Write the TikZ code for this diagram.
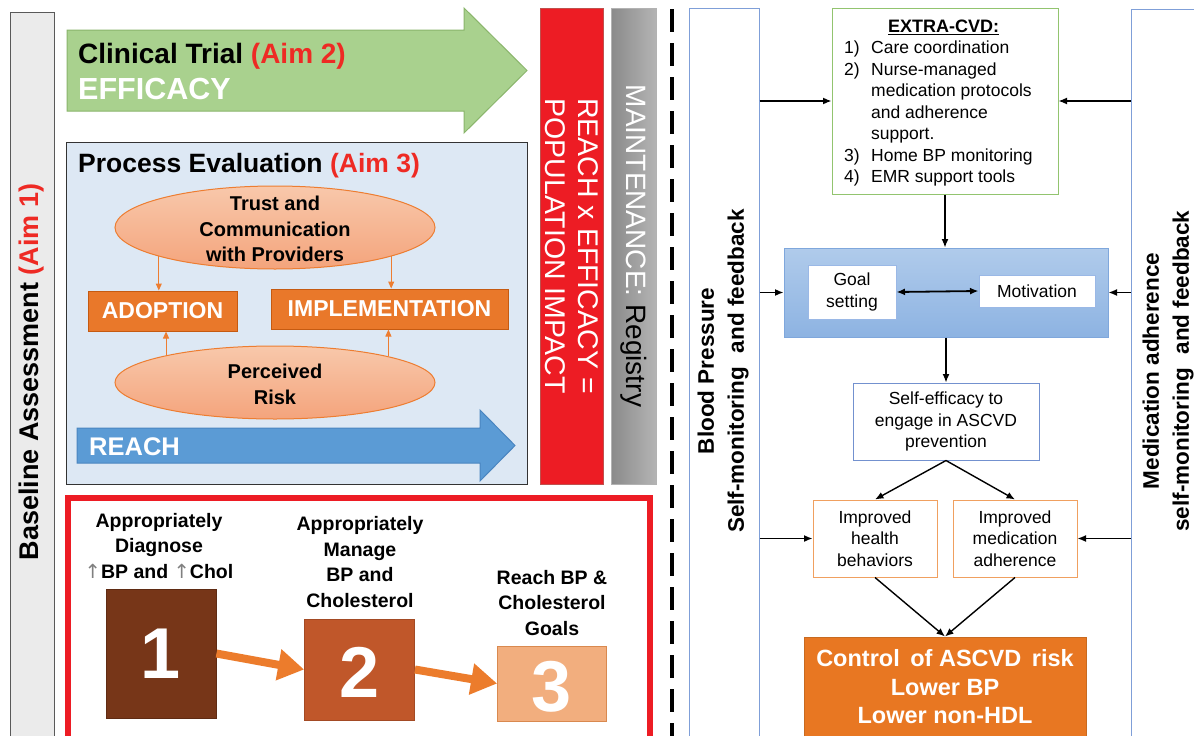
\documentclass[tikz,border=0pt]{standalone}
\usepackage{fontspec}
\setmainfont{Liberation Sans}
\newfontfamily\arrowfont{DejaVu Sans}
\usetikzlibrary{arrows.meta,shapes.geometric,calc}
\newcommand{\myfs}[2]{\fontsize{#1}{#2}\selectfont}
\definecolor{aimred}{HTML}{EE2A24}
\definecolor{greenF}{HTML}{A9D18E}
\definecolor{greenB}{HTML}{8AB56B}
\definecolor{procF}{HTML}{DDE8F4}
\definecolor{procB}{HTML}{333333}
\definecolor{ellT}{HTML}{F8C8AB}
\definecolor{ellB}{HTML}{F4A47C}
\definecolor{ellD}{HTML}{ED7D31}
\definecolor{orF}{HTML}{E9782A}
\definecolor{orB}{HTML}{C55A11}
\definecolor{reachF}{HTML}{5B9BD5}
\definecolor{reachB}{HTML}{4A85C0}
\definecolor{barred}{HTML}{ED1C24}
\definecolor{barredB}{HTML}{C0504D}
\definecolor{grayL}{HTML}{8A8A8A}
\definecolor{grayR}{HTML}{B4B4B4}
\definecolor{brown1}{HTML}{773618}
\definecolor{brown2}{HTML}{C0572A}
\definecolor{peach3}{HTML}{F2AE7E}
\definecolor{peach3B}{HTML}{D9894F}
\definecolor{bigor}{HTML}{EC7C2C}
\definecolor{bpB}{HTML}{7F9FD8}
\definecolor{extraB}{HTML}{92C46F}
\definecolor{blueT}{HTML}{B0CBEB}
\definecolor{blueBot}{HTML}{8DB3E2}
\definecolor{blueB}{HTML}{7FA7DC}
\definecolor{goalB}{HTML}{9AB8E6}
\definecolor{selfB}{HTML}{7391CF}
\definecolor{hB}{HTML}{F0A060}
\definecolor{ctrlF}{HTML}{E87722}
\definecolor{ctrlB}{HTML}{C86A20}
\begin{document}
\begin{tikzpicture}[x=1pt,y=-1pt,
  every node/.style={inner sep=0pt},
  bar/.style={draw=black!65, fill=black!8, line width=1pt},
  ell/.style={ellipse, draw=ellD, line width=1pt, top color=ellT, bottom color=ellB, minimum width=320pt},
  etext/.style={align=center, font=\bfseries\myfs{20}{25.5}},
  obox/.style={draw=orB, fill=orF, line width=1pt, text=white, font=\bfseries\myfs{23}{26}},
  smallor/.style={draw=ellD, line width=1pt, -{Triangle[length=7pt,width=6pt]}},
  numbox/.style={text=white, font=\bfseries\myfs{72}{80}},
  steptxt/.style={align=center, font=\bfseries\myfs{19.5}{25.5}},
  bigarrow/.style={draw=bigor, line width=8pt, -{Triangle[length=26pt,width=30pt]}},
  sidebox/.style={draw=bpB, fill=white, line width=1pt},
  sidetxt/.style={align=center, rotate=90, font=\bfseries\myfs{22.5}{30}},
  wbox/.style={fill=white, line width=1pt, align=center, font=\myfs{17.5}{21.5}},
  blk/.style={draw=black, line width=1.4pt, -{Latex[length=8.5pt,width=7pt]}},
  dblk/.style={draw=black, line width=1.8pt, {Latex[length=8.5pt,width=7pt]}-{Latex[length=8.5pt,width=7pt]}}
]
\useasboundingbox (0,0) rectangle (1194,736);
\clip (0,0) rectangle (1194,736);
\fill[white] (0,0) rectangle (1194,736);

% Baseline assessment bar
\node[bar, minimum width=44pt, minimum height=730pt] (base) at (32,377) {};
\node[rotate=90, font=\bfseries\myfs{27}{32}] (basetxt) at (32,372) {Baseline Assessment \textcolor{aimred}{(Aim 1)}};

% Green arrow (clinical trial)
\draw[draw=greenB, fill=greenF, line width=1pt] (67,30) -- (464,30) -- (464,8) -- (527,70.5) -- (464,133) -- (464,111) -- (67,111) -- cycle;
\node[anchor=base west, font=\bfseries\myfs{28}{32}] (cttxt) at (78,63) {Clinical Trial \textcolor{aimred}{(Aim 2)}};
\node[anchor=base west, font=\bfseries\myfs{30.5}{34}, text=white] (efftxt) at (78,99) {EFFICACY};

% Process evaluation box
\node[draw=procB, fill=procF, line width=1pt, minimum width=461pt, minimum height=342pt] (proc) at (296.5,313) {};
\node[anchor=base west, font=\bfseries\myfs{26.5}{30}] (proctxt) at (78,172) {Process Evaluation \textcolor{aimred}{(Aim 3)}};

\node[ell, minimum height=83pt] (trust) at (275,227.5) {};
\node[etext] (trusttxt) at (275,229) {Trust and\\Communication\\with Providers};
\node[ell, minimum height=73pt] (risk) at (275,382.5) {};
\node[etext, font=\bfseries\myfs{20}{26}] (risktxt) at (275,384.5) {Perceived\\Risk};

\node[obox, minimum width=149pt, minimum height=40pt] (adopt) at (162.5,311) {ADOPTION};
\node[obox, minimum width=237pt, minimum height=40pt] (impl) at (389.5,309) {IMPLEMENTATION};

\draw[smallor] (trust.194.8) -- (trust.194.8 |- adopt.north);
\draw[smallor] (trust.-14.7) -- (trust.-14.7 |- impl.north);
\draw[smallor] (risk.166.9) -- (risk.166.9 |- adopt.south);
\draw[smallor] (risk.13.1) -- (risk.13.1 |- impl.south);

% REACH arrow
\draw[draw=reachB, fill=reachF, line width=1pt] (77,428) -- (480,428) -- (480,410) -- (515,445.5) -- (480,481) -- (480,463) -- (77,463) -- cycle;
\node[anchor=base west, font=\bfseries\myfs{25.5}{30}, text=white] (reachtxt) at (89,455) {REACH};

% Red frame with steps
\node[draw=barred, line width=6pt, minimum width=582pt, minimum height=247pt] (frame) at (359,621.5) {};
\node[fill=brown1, draw=brown1!80!black, line width=0.8pt, minimum width=110pt, minimum height=129pt] (b1) at (161,653.5) {};
\node[fill=brown2, draw=brown2!85!black, line width=0.8pt, minimum width=110pt, minimum height=101pt] (b2) at (359.5,669.5) {};
\node[fill=peach3, draw=peach3B, line width=0.8pt, minimum width=109pt, minimum height=75pt] (b3) at (552,683.5) {};
\node[numbox] (n1) at (b1.center) {1};
\node[numbox] (n2) at ([yshift=-3pt]b2.center) {2};
\node[numbox] (n3) at ([yshift=-3pt]b3.center) {3};
\node[steptxt] (t1) at (159,546) {Appropriately\\Diagnose\\{\color{gray}\arrowfont\mdseries ↑}BP and {\color{gray}\arrowfont\mdseries ↑}Chol};
\node[steptxt] (t2) at (360,562) {Appropriately\\Manage\\BP and\\Cholesterol};
\node[steptxt] (t3) at (552,603) {Reach BP \&\\Cholesterol\\Goals};
\draw[bigarrow] (b1.east) -- (b2.west);
\draw[bigarrow] (b2.east) -- (b3.west);

% Vertical bars
\node[fill=barred, draw=barredB, line width=0.8pt, minimum width=63pt, minimum height=476pt] (rbar) at (571.5,246) {};
\node[rotate=-90, align=center, text=white, font=\myfs{28.5}{33}] (rbartxt) at (571.5,246) {REACH x EFFICACY =\\POPULATION IMPACT};
\node[left color=grayL, right color=grayR, draw=black!30, line width=0.8pt, minimum width=45pt, minimum height=476pt] (gbar) at (633.5,246) {};
\node[rotate=-90, font=\myfs{28}{33}] (gbartxt) at (633.5,246) {\textcolor{white}{MAINTENANCE:} Registry};

% Dashed divider
\draw[black, line width=4pt, dash pattern=on 23pt off 11pt] (672,9) -- (672,740);

% Side boxes
\node[sidebox, minimum width=70pt, minimum height=732pt] (bp) at (724,374) {};
\node[sidetxt] (bptxt) at (723,371) {Blood Pressure\\Self-monitoring\hspace{0.6em}and feedback};
\node[sidebox, minimum width=69pt, minimum height=731pt] (madh) at (1165.5,374.5) {};
\node[sidetxt] (madhtxt) at (1168,371) {Medication adherence\\self-monitoring\hspace{0.6em}and feedback};

% EXTRA-CVD box
\node[draw=extraB, fill=white, line width=1pt, minimum width=226pt, minimum height=186pt] (extra) at (945,101) {};
\node[anchor=north west, font=\myfs{17.5}{21.5}] (extratxt) at (844,17) {\begin{tabular}{@{}p{27pt}@{}l@{}}
\multicolumn{2}{@{}l@{}}{\hspace{44pt}{\myfs{18}{21.5}\bfseries\underline{EXTRA-CVD:}}}\\
1) & Care coordination\\
2) & Nurse-managed\\
 & medication protocols\\
 & and adherence\\
 & support.\\
3) & Home BP monitoring\\
4) & EMR support tools
\end{tabular}};

% Blue box with goal setting / motivation
\node[draw=blueB, top color=blueT, bottom color=blueBot, line width=1pt, minimum width=324pt, minimum height=89pt] (blue) at (946,292.5) {};
\node[wbox, draw=goalB, minimum width=88pt, minimum height=54pt] (goal) at (852,292) {Goal\\setting};
\node[wbox, draw=goalB, minimum width=116pt, minimum height=32pt] (motiv) at (1037,291) {Motivation};

\node[wbox, draw=selfB, minimum width=186pt, minimum height=77pt] (selfeff) at (946,421.5) {Self-efficacy to\\engage in ASCVD\\prevention};
\node[wbox, draw=hB, minimum width=124pt, minimum height=77pt] (health) at (875,538.5) {Improved\\health\\behaviors};
\node[wbox, draw=hB, minimum width=124pt, minimum height=77pt] (medad) at (1015,538.5) {Improved\\medication\\adherence};

\node[fill=ctrlF, draw=ctrlB, line width=1pt, minimum width=282pt, minimum height=108pt] (ctrl) at (945,691) {};
\node[align=center, text=white, font=\bfseries\myfs{23.5}{28.5}] (ctrltxt) at (945,687) {Control\hspace{0.45em}of ASCVD\hspace{0.45em}risk\\Lower BP\\Lower non-HDL};

% Connectors
\draw[blk] (bp.east |- extra.west) -- (extra.west);
\draw[blk] (bp.east |- blue.west) -- (blue.west);
\draw[blk] (bp.east |- health.west) -- (health.west);
\draw[blk] (madh.west |- extra.east) -- (extra.east);
\draw[blk] (madh.west |- blue.east) -- (blue.east);
\draw[blk] (madh.west |- medad.east) -- (medad.east);
\draw[blk] (extra.south) -- (extra.south |- blue.north);
\draw[blk] (blue.south) -- (selfeff.north);
\draw[blk] (selfeff.south) -- (health.north);
\draw[blk] (selfeff.south) -- (medad.north);
\draw[blk] (health.south) -- (ctrl.north);
\draw[blk] (medad.south) -- (ctrl.north);
\draw[dblk] (goal.east) -- (motiv.west);
\end{tikzpicture}
\end{document}
